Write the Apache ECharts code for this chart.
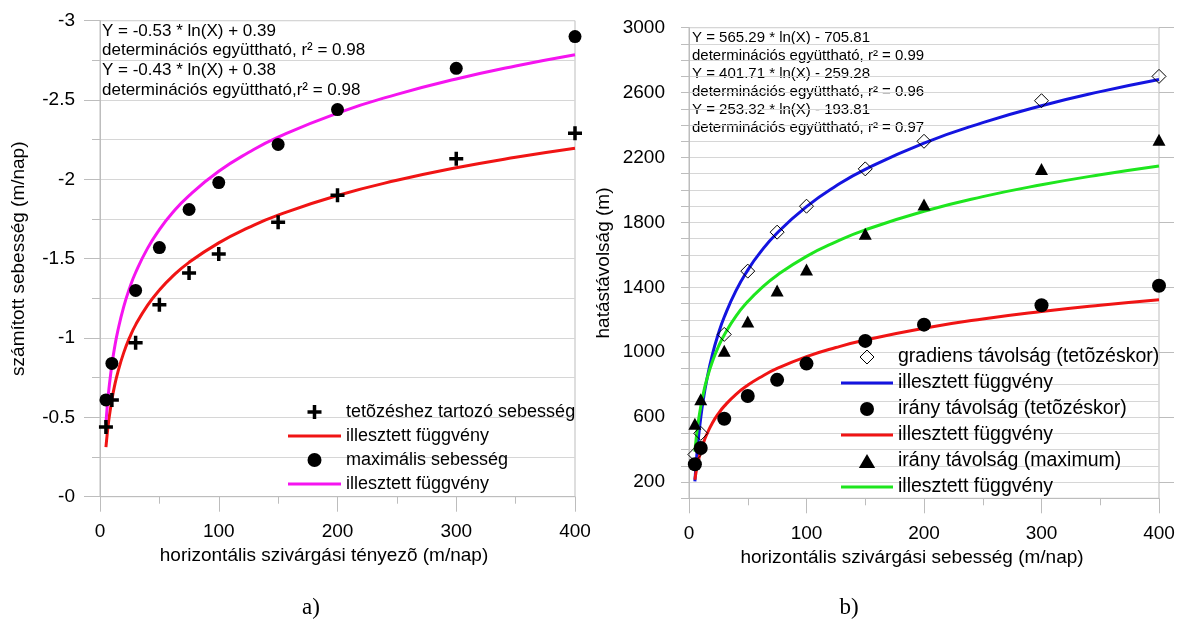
<!DOCTYPE html>
<html>
<head>
<meta charset="utf-8">
<script src="https://cdn.jsdelivr.net/npm/echarts@6/dist/echarts.min.js"></script>
<style>
  html, body { margin: 0; padding: 0; background: #fff; }
  #chart { width: 1178px; height: 620px; }
</style>
</head>
<body>
<div id="chart"></div>
<script>
// közös x értékek (mért pontok) és az illesztett görbék mintavételi pontjai
const measureX = [5, 10, 30, 50, 75, 100, 150, 200, 300, 400]
const curveX = [5, 6, 7, 8, 10, 12, 15, 20, 25, 30, 40, 50, 60, 75, 100, 125, 150, 200, 250, 300, 350, 400]

// a) sebességek
const peakSpeed = [-0.44, -0.61, -0.97, -1.21, -1.41, -1.53, -1.73, -1.90, -2.13, -2.29]
const maxSpeed = [-0.61, -0.84, -1.30, -1.57, -1.81, -1.98, -2.22, -2.44, -2.70, -2.90]
const peakFit = [-0.312, -0.390, -0.457, -0.514, -0.610, -0.689, -0.784, -0.908, -1.004, -1.083, -1.206, -1.302, -1.381, -1.477, -1.600, -1.696, -1.775, -1.898, -1.994, -2.073, -2.139, -2.196]
const maxFit = [-0.463, -0.560, -0.641, -0.712, -0.830, -0.927, -1.045, -1.198, -1.316, -1.413, -1.565, -1.683, -1.780, -1.898, -2.051, -2.169, -2.266, -2.418, -2.536, -2.633, -2.715, -2.786]

// b) hatástávolságok
const gradDist = [370, 500, 1110, 1500, 1740, 1900, 2130, 2300, 2550, 2700]
const dirDistPeak = [310, 410, 590, 730, 830, 930, 1070, 1170, 1290, 1410]
const dirDistMax = [560, 710, 1010, 1190, 1380, 1510, 1730, 1910, 2130, 2310]
const gradFit = [204, 307, 394, 470, 596, 699, 825, 988, 1114, 1217, 1380, 1506, 1609, 1735, 1897, 2024, 2127, 2289, 2415, 2519, 2606, 2681]
const dirPeakFit = [214, 260, 299, 333, 390, 436, 492, 565, 622, 668, 741, 797, 843, 900, 973, 1029, 1075, 1148, 1205, 1251, 1290, 1324]
const dirMaxFit = [387, 461, 522, 576, 666, 739, 829, 944, 1034, 1107, 1223, 1312, 1385, 1475, 1591, 1680, 1754, 1869, 1959, 2032, 2094, 2148]

// tengelyfeliratok
const xTicks = [0, 100, 200, 300, 400]
const leftYTicks = [-3, -2.5, -2, -1.5, -1, -0.5, 0]
const rightYTicks = [200, 600, 1000, 1400, 1800, 2200, 2600, 3000]

const leftEquations = [
  'Y = -0.53 * ln(X) + 0.39',
  'determinációs együttható, r² = 0.98',
  'Y = -0.43 * ln(X) + 0.38',
  'determinációs együttható,r² = 0.98'
]
const rightEquations = [
  'Y = 565.29 * ln(X) - 705.81',
  'determinációs együttható, r² = 0.99',
  'Y = 401.71 * ln(X) - 259.28',
  'determinációs együttható, r² = 0.96',
  'Y = 253.32 * ln(X) - 193.81',
  'determinációs együttható, r² = 0.97'
]

const FONT = '"Liberation Sans", Arial, sans-serif'
const GRID_COLOR = '#d6d6d6'
const AXIS_COLOR = '#bdbdbd'
const PLUS = 'path://M6,0h4v6h6v4h-6v6h-4v-6h-6v-4h6z'
const LINE_ICON = 'path://M0,0h50v3h-50z'
const DIAMOND_ICON = 'path://M0,7L7,0L14,7L7,14Z'
const TRIANGLE_ICON = 'path://M7,0L14,12L0,12Z'

const pairs = (xs, ys) => xs.map((x, i) => [x, ys[i]])

const fitName = n => 'illesztett függvény' + ' '.repeat(n)

const xAxisBase = (gridIndex, title, padRight) => ({
  type: 'value',
  gridIndex,
  min: 0,
  max: 400,
  interval: 100,
  name: title,
  nameLocation: 'middle',
  nameGap: 47,
  nameTextStyle: { fontFamily: FONT, fontSize: 19, color: '#000', padding: [0, padRight, 0, 0] },
  axisLine: { show: true, lineStyle: { color: AXIS_COLOR, width: 1 } },
  axisTick: { show: true, length: 15, lineStyle: { color: AXIS_COLOR } },
  minorTick: { show: true, splitNumber: 2, length: 7, lineStyle: { color: AXIS_COLOR } },
  splitLine: { show: false },
  axisLabel: { customValues: xTicks, margin: 26, fontFamily: FONT, fontSize: 19, color: '#000' }
})

const chart = echarts.init(document.getElementById('chart'))
chart.setOption({
  backgroundColor: '#fff',
  animation: false,
  grid: [
    { left: 100, right: 603, top: 20.7, bottom: 123.3, show: true, borderColor: AXIS_COLOR, borderWidth: 1, containLabel: false },
    { left: 689, right: 19, top: 27.7, bottom: 121.7, show: true, borderColor: AXIS_COLOR, borderWidth: 1, containLabel: false }
  ],
  xAxis: [
    xAxisBase(0, 'horizontális szivárgási tényezõ (m/nap)', 27),
    xAxisBase(1, 'horizontális szivárgási sebesség (m/nap)', 24)
  ],
  yAxis: [
    {
      type: 'value',
      gridIndex: 0,
      inverse: true,
      min: -3,
      max: 0,
      interval: 0.5,
      name: 'számított sebesség (m/nap)',
      nameLocation: 'middle',
      nameGap: 72,
      nameTextStyle: { fontFamily: FONT, fontSize: 19, color: '#000' },
      axisLine: { show: true, lineStyle: { color: AXIS_COLOR } },
      axisTick: { show: true, length: 16, lineStyle: { color: AXIS_COLOR } },
      minorTick: { show: true, splitNumber: 2, length: 8, lineStyle: { color: AXIS_COLOR } },
      splitLine: { show: true, lineStyle: { color: GRID_COLOR } },
      minorSplitLine: { show: true, lineStyle: { color: GRID_COLOR } },
      axisLabel: {
        customValues: leftYTicks,
        margin: 25,
        fontFamily: FONT,
        fontSize: 19,
        color: '#000',
        formatter: v => (v === 0 ? '-0' : String(v))
      }
    },
    {
      type: 'value',
      gridIndex: 1,
      min: 100,
      max: 3000,
      interval: 100,
      name: 'hatástávolság (m)',
      nameLocation: 'middle',
      nameGap: 76,
      nameTextStyle: { fontFamily: FONT, fontSize: 19, color: '#000' },
      axisLine: { show: true, lineStyle: { color: AXIS_COLOR } },
      axisTick: { show: true, length: 8, lineStyle: { color: AXIS_COLOR } },
      splitLine: { show: true, lineStyle: { color: GRID_COLOR } },
      axisLabel: {
        customValues: rightYTicks,
        margin: 24,
        fontFamily: FONT,
        fontSize: 19,
        color: '#000',
        formatter: v => String(v)
      }
    },
    {
      // csak a hosszú osztásjelek a feliratozott értékeknél
      type: 'value',
      gridIndex: 1,
      min: 100,
      max: 3000,
      interval: 100,
      axisLine: { show: false },
      axisTick: { show: true, length: 15, customValues: rightYTicks, lineStyle: { color: AXIS_COLOR } },
      splitLine: { show: false },
      axisLabel: { show: false }
    }
  ],
  legend: [
    {
      orient: 'vertical',
      left: 283,
      top: 398,
      itemWidth: 53,
      itemHeight: 14,
      itemGap: 6,
      selectedMode: false,
      formatter: n => n.trim(),
      textStyle: { fontFamily: FONT, fontSize: 18, color: '#000' },
      data: [
        { name: 'tetõzéshez tartozó sebesség' },
        { name: fitName(0), icon: LINE_ICON },
        { name: 'maximális sebesség', icon: 'circle' },
        { name: fitName(1), icon: LINE_ICON }
      ]
    },
    {
      orient: 'vertical',
      left: 836,
      top: 342,
      itemWidth: 52,
      itemHeight: 14,
      itemGap: 6,
      selectedMode: false,
      formatter: n => n.trim(),
      textStyle: { fontFamily: FONT, fontSize: 19.5, color: '#000' },
      data: [
        { name: 'gradiens távolság (tetõzéskor)', icon: DIAMOND_ICON, itemStyle: { borderWidth: 1 } },
        { name: fitName(2), icon: LINE_ICON },
        { name: 'irány távolság (tetõzéskor)', icon: 'circle' },
        { name: fitName(3), icon: LINE_ICON },
        { name: 'irány távolság (maximum)', icon: TRIANGLE_ICON },
        { name: fitName(4), icon: LINE_ICON }
      ]
    }
  ],
  graphic: [
    {
      type: 'text',
      left: 102,
      top: 21,
      style: { text: leftEquations.join('\n'), fontFamily: FONT, fontSize: 17, lineHeight: 19.7, fill: '#000' }
    },
    {
      type: 'text',
      left: 692,
      top: 29.3,
      style: { text: rightEquations.join('\n'), fontFamily: FONT, fontSize: 15, lineHeight: 18, fill: '#000' }
    },
    {
      type: 'text',
      x: 311,
      y: 608,
      style: { text: 'a)', fontFamily: '"Liberation Serif", "Times New Roman", serif', fontSize: 23, fill: '#000', align: 'center', verticalAlign: 'middle' }
    },
    {
      type: 'text',
      x: 849,
      y: 608,
      style: { text: 'b)', fontFamily: '"Liberation Serif", "Times New Roman", serif', fontSize: 23, fill: '#000', align: 'center', verticalAlign: 'middle' }
    }
  ],
  series: [
    // a)
    {
      name: fitName(0), type: 'line', xAxisIndex: 0, yAxisIndex: 0, z: 2,
      data: pairs(curveX, peakFit), smooth: true, symbol: 'none',
      lineStyle: { color: '#f01414', width: 3 }, itemStyle: { color: '#f01414' }
    },
    {
      name: fitName(1), type: 'line', xAxisIndex: 0, yAxisIndex: 0, z: 2,
      data: pairs(curveX, maxFit), smooth: true, symbol: 'none',
      lineStyle: { color: '#f514f0', width: 3 }, itemStyle: { color: '#f514f0' }
    },
    {
      name: 'tetõzéshez tartozó sebesség', type: 'scatter', xAxisIndex: 0, yAxisIndex: 0, z: 3,
      data: pairs(measureX, peakSpeed), symbol: PLUS, symbolSize: 14,
      itemStyle: { color: '#000', opacity: 1 }
    },
    {
      name: 'maximális sebesség', type: 'scatter', xAxisIndex: 0, yAxisIndex: 0, z: 3,
      data: pairs(measureX, maxSpeed), symbol: 'circle', symbolSize: 13,
      itemStyle: { color: '#000', opacity: 1 }
    },
    // b)
    {
      name: fitName(2), type: 'line', xAxisIndex: 1, yAxisIndex: 1, z: 2,
      data: pairs(curveX, gradFit), smooth: true, symbol: 'none',
      lineStyle: { color: '#1414e0', width: 3 }, itemStyle: { color: '#1414e0' }
    },
    {
      name: fitName(3), type: 'line', xAxisIndex: 1, yAxisIndex: 1, z: 2,
      data: pairs(curveX, dirPeakFit), smooth: true, symbol: 'none',
      lineStyle: { color: '#f01414', width: 3 }, itemStyle: { color: '#f01414' }
    },
    {
      name: fitName(4), type: 'line', xAxisIndex: 1, yAxisIndex: 1, z: 2,
      data: pairs(curveX, dirMaxFit), smooth: true, symbol: 'none',
      lineStyle: { color: '#1ee61e', width: 3 }, itemStyle: { color: '#1ee61e' }
    },
    {
      name: 'gradiens távolság (tetõzéskor)', type: 'scatter', xAxisIndex: 1, yAxisIndex: 1, z: 3,
      data: pairs(measureX, gradDist), symbol: 'diamond', symbolSize: 14,
      itemStyle: { color: 'rgba(255,255,255,0)', borderColor: '#000', borderWidth: 1, opacity: 1 }
    },
    {
      name: 'irány távolság (tetõzéskor)', type: 'scatter', xAxisIndex: 1, yAxisIndex: 1, z: 3,
      data: pairs(measureX, dirDistPeak), symbol: 'circle', symbolSize: 14,
      itemStyle: { color: '#000', opacity: 1 }
    },
    {
      name: 'irány távolság (maximum)', type: 'scatter', xAxisIndex: 1, yAxisIndex: 1, z: 3,
      data: pairs(measureX, dirDistMax), symbol: 'triangle', symbolSize: [13, 12],
      itemStyle: { color: '#000', opacity: 1 }
    }
  ]
})
</script>
</body>
</html>
